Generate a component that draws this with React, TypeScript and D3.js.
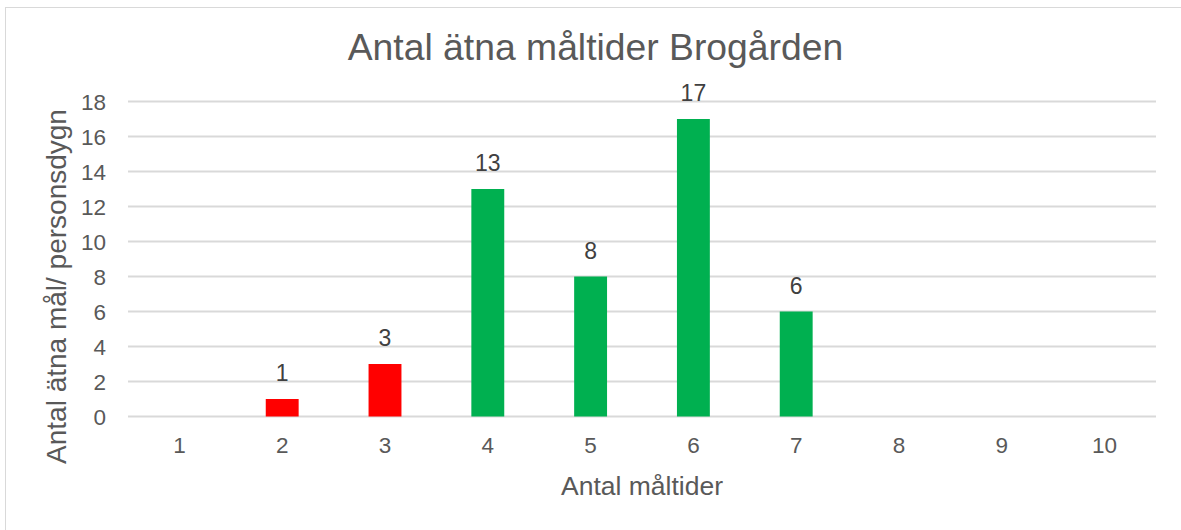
import React from "react";
import * as d3 from "d3";

const categories = ["1", "2", "3", "4", "5", "6", "7", "8", "9", "10"];
const values = [0, 1, 3, 13, 8, 17, 6, 0, 0, 0];
const barColors = ["#FF0000", "#FF0000", "#FF0000", "#00B050", "#00B050", "#00B050", "#00B050", "#00B050", "#00B050", "#00B050"];
const yTicks = [0, 2, 4, 6, 8, 10, 12, 14, 16, 18];
const title = "Antal ätna måltider Brogården";
const xTitle = "Antal måltider";
const yTitle = "Antal ätna mål/ personsdygn";

const W = 1181;
const H = 530;
const plot = { left: 128, right: 1156, top: 101.5, bottom: 416.5 };
const textColor = "#595959";
const font = "'Liberation Sans', Arial, sans-serif";

export default function App() {
  const x = d3
    .scaleBand<string>()
    .domain(categories)
    .range([plot.left, plot.right])
    .paddingInner(0.68)
    .paddingOuter(0.34);
  const y = d3.scaleLinear().domain([0, 18]).range([plot.bottom, plot.top]);
  const step = x.step();

  return (
    <svg
      width={W}
      height={H}
      style={{ position: "absolute", left: 0, top: 0, background: "#fff" }}
      fontFamily={font}
    >
      <rect x={0} y={0} width={W} height={H} fill="#fff" />
      <rect x={5.5} y={7.5} width={1300} height={600} fill="none" stroke="#D9D9D9" strokeWidth={1} />
      <text x={595.5} y={60} textAnchor="middle" fontSize={37.3} fill={textColor}>
        {title}
      </text>
      {yTicks.map((t) => (
        <g key={t}>
          <line x1={plot.left} x2={plot.right} y1={y(t)} y2={y(t)} stroke="#D9D9D9" strokeWidth={2} />
          <text x={106} y={y(t) + 8} textAnchor="end" fontSize={22.5} fill={textColor}>
            {t}
          </text>
        </g>
      ))}
      {categories.map((c, i) => (
        <g key={c}>
          {values[i] > 0 && (
            <rect
              x={x(c)!}
              y={y(values[i])}
              width={x.bandwidth()}
              height={y(0) - y(values[i])}
              fill={barColors[i]}
            />
          )}
          {values[i] > 0 && (
            <text
              x={x(c)! + x.bandwidth() / 2}
              y={y(values[i]) - 18}
              textAnchor="middle"
              fontSize={23}
              fill={"#404040"}
            >
              {values[i]}
            </text>
          )}
          <text
            x={plot.left + step * (i + 0.5)}
            y={453}
            textAnchor="middle"
            fontSize={22.5}
            fill={textColor}
          >
            {c}
          </text>
        </g>
      ))}
      <text x={642} y={495} textAnchor="middle" fontSize={26.5} fill={textColor}>
        {xTitle}
      </text>
      <text
        transform={`translate(66, 286.5) rotate(-90)`}
        textAnchor="middle"
        fontSize={28}
        fill={textColor}
      >
        {yTitle}
      </text>
    </svg>
  );
}
